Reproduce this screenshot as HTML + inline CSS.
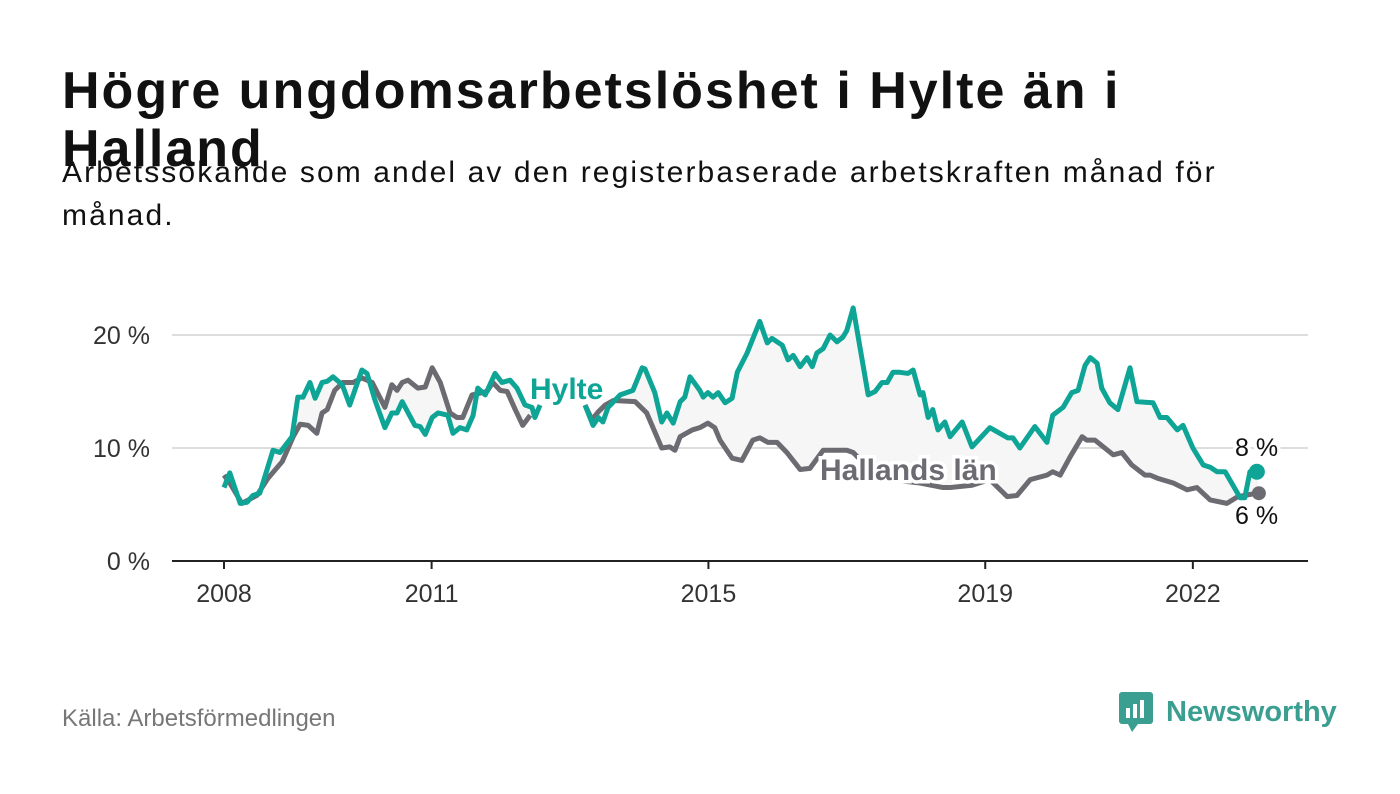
<!DOCTYPE html>
<html><head><meta charset="utf-8"><style>
body{margin:0;width:1400px;height:794px;background:#fff;overflow:hidden;font-family:"Liberation Sans",sans-serif;position:relative}
.t{position:absolute;left:62px;color:#111}
</style></head><body>
<div class="t" style="top:62px;font-size:52px;letter-spacing:2px;font-weight:bold;line-height:58px;width:1110px">Högre ungdomsarbetslöshet i Hylte än i Halland</div>
<div class="t" style="top:151px;font-size:30px;letter-spacing:2.1px;line-height:43px;width:1240px">Arbetssökande som andel av den registerbaserade arbetskraften månad för månad.</div>
<svg id="c" width="1400" height="794" style="position:absolute;left:0;top:0"></svg>
<div class="t" style="top:705px;font-size:24px;color:#777">Källa: Arbetsförmedlingen</div>
<div style="position:absolute;left:1118px;top:690px;display:flex;align-items:center">
<svg width="36" height="44"><rect x="1" y="2" width="34" height="32" rx="3" fill="#3a9e90"/><path d="M10 34 L14 42 L20 34Z" fill="#3a9e90"/><rect x="8" y="18" width="4" height="10" fill="#fff"/><rect x="15" y="14" width="4" height="14" fill="#fff"/><rect x="22" y="10" width="4" height="18" fill="#fff"/></svg>
<span style="font-size:29px;font-weight:bold;color:#3a9e90;margin-left:12px">Newsworthy</span></div>
<script>
// months since Jan 2008
const hylteMonths=[0,1,2.8,4,5,6.2,8.5,9.7,11.8,12.8,13.7,14.9,15.8,17,17.9,18.9,20.5,21.8,23.9,24.8,26.2,27.9,29.1,30,30.9,33.1,34,34.9,36.1,37.1,38.8,39.7,40.9,42.1,43.2,44,45.3,47,48.2,49.6,50.8,52.2,53.4,53.9,54.8,null,62.6,64,64.9,65.7,66.6,68.7,70.9,72.5,73,74.7,75.9,76.8,77.9,79.1,79.9,80.8,82.5,83.1,83.9,84.8,85.7,86.9,88.1,89,90.7,92.9,94.2,95,96.8,97.8,98.7,99.9,101.1,102,102.8,103.9,105.1,106.3,107.3,108,109.1,111.7,112.9,114.1,115,116,117.2,118.6,119.5,120.7,121.2,122.1,122.9,123.8,125,125.9,128,129.7,132.8,135.9,136.8,138,140.6,142.7,143.7,145.5,147,148.1,149.3,150.2,151.4,152.2,153.6,155,157.1,158.3,161.1,162.3,163.5,165.3,166.3,168,169.8,171,172.2,173.6,176.2,177,177.9,179.1];
const hylteValues=[6.5,7.8,5.1,5.2,5.8,6,9.8,9.6,11,14.5,14.5,15.8,14.4,15.8,15.9,16.3,15.6,13.8,16.9,16.6,14.2,11.8,13.1,13.1,14.1,12,11.9,11.2,12.7,13.1,12.9,11.3,11.8,11.6,12.9,15.3,14.7,16.6,15.8,16,15.3,13.8,13.6,12.7,13.8,null,13.8,12,12.7,12.3,13.6,14.7,15.1,17.1,17,14.9,12.3,13.1,12.2,14.1,14.5,16.3,15.1,14.5,14.9,14.5,14.9,14,14.4,16.7,18.4,21.2,19.3,19.7,19.1,17.8,18.2,17.2,18,17.2,18.4,18.8,20,19.4,19.8,20.4,22.4,14.7,15,15.8,15.8,16.7,16.7,16.6,16.9,14.7,14.9,12.7,13.4,11.6,12.3,11,12.3,10.1,11.8,10.9,10.9,10,11.9,10.5,12.9,13.6,14.9,15.1,17.3,18,17.5,15.3,14,13.4,17.1,14.1,14,12.7,12.7,11.6,12,10,8.5,8.3,7.9,7.9,5.6,5.6,7.9,7.9];
const hallMonths=[0,1,3.1,5.7,7.6,10.1,12,13.2,14.6,16.1,17,17.9,19.2,20.6,22.4,23.9,25.7,27.9,29.1,30,30.9,31.9,33.6,34.9,36.1,37.5,39.2,40.4,41.4,43,45.6,46.6,47.9,49.1,50.5,51.8,53.1,null,62.6,63.8,64.9,66.1,67.5,71.3,73.3,75.9,77.3,78.2,79.1,81.2,82.5,83.9,85.1,86,88.1,89.8,91.7,92.9,94.3,95.9,97.6,99.9,101.6,103.9,108,109.1,112,115.5,120.7,124.7,125.9,129.7,132.8,135.8,137.5,139.8,142.7,143.7,145,146.7,148.8,149.6,151,154.2,155.7,157.4,159.7,160.6,162,164.6,167,168.7,171,173.9,175.8,177,179.1];
const hallValues=[7.6,6.9,5.1,5.8,7.3,8.8,11,12.1,12,11.3,13.1,13.4,15.1,15.8,15.8,16.2,15.8,13.6,15.6,15.1,15.8,16,15.3,15.4,17.1,15.8,13.1,12.7,12.7,14.7,15,15.8,15.1,15,13.4,12,12.9,null,13.8,12.5,13.2,13.8,14.2,14.1,13.1,10,10.1,9.8,11,11.6,11.8,12.2,11.8,10.7,9.1,8.9,10.7,10.9,10.5,10.5,9.6,8.1,8.2,9.8,9.8,9.6,8.1,7.2,6.9,6.5,6.5,6.7,7.2,5.7,5.8,7.2,7.6,7.9,7.6,9.2,11,10.7,10.7,9.4,9.6,8.5,7.6,7.6,7.3,6.9,6.3,6.5,5.4,5.1,5.7,5.8,6];
const yTicks=[0,10,20];
const xTickYears=[2008,2011,2015,2019,2022];
const TEAL="#0ea596",GRAY="#6d6b72";
const svg=document.getElementById('c');const NS="http://www.w3.org/2000/svg";
const X=m=>224+m*5.767, Y=v=>561-v*11.3, XY=y=>X((y-2008)*12);
function mk(t,a,p){const e=document.createElementNS(NS,t);for(const k in a)e.setAttribute(k,a[k]);(p||svg).appendChild(e);return e;}
yTicks.forEach(v=>{
 if(v>0){const g=mk('line',{x1:172,x2:1308,y1:Y(v),y2:Y(v),stroke:'#ddd','stroke-width':2});
 
 }
 const t=mk('text',{x:150,y:Y(v)+9,'text-anchor':'end','font-size':25,fill:'#333','font-family':'Liberation Sans'});t.textContent=v+' %';
 
 
});
const ax=mk('line',{x1:172,x2:1308,y1:561,y2:561,stroke:'#222','stroke-width':2});


xTickYears.forEach(y=>{mk('line',{x1:XY(y),x2:XY(y),y1:561,y2:569,stroke:'#222','stroke-width':2});
 const t=mk('text',{x:XY(y),y:602,'text-anchor':'middle','font-size':25,fill:'#333','font-family':'Liberation Sans'});t.textContent=y;
 
 });
function segs(ms,vs){const out=[];let cur=[];ms.forEach((m,i)=>{if(m===null){out.push(cur);cur=[];}else cur.push([X(m),Y(vs[i])]);});out.push(cur);return out;}
const hs=segs(hylteMonths,hylteValues),gs=segs(hallMonths,hallValues);
hs.forEach((s,i)=>{const pts=s.concat(gs[i].slice().reverse());
 const f=mk('polygon',{points:pts.map(p=>p.join(',')).join(' '),fill:'#f6f6f6',stroke:'#eee'});
 
 });
gs.forEach(s=>{const l=mk('polyline',{points:s.map(p=>p.join(',')).join(' '),fill:'none',stroke:GRAY,'stroke-width':5,'stroke-linejoin':'round'});
 
 });
hs.forEach(s=>{const l=mk('polyline',{points:s.map(p=>p.join(',')).join(' '),fill:'none',stroke:TEAL,'stroke-width':5,'stroke-linejoin':'round'});
 
 });
const hl=hallMonths.length-1,yl=hylteMonths.length-1;
const d1=mk('circle',{cx:X(hallMonths[hl])+2,cy:Y(hallValues[hl]),r:7,fill:GRAY});


const d2=mk('circle',{cx:X(hylteMonths[yl]),cy:Y(hylteValues[yl]),r:8,fill:TEAL});


function lab(txt,x,y,fill,bold,name,halo){const a={x:x,y:y,'font-size':bold?30:25,'font-weight':bold?'bold':'normal',fill:fill,'font-family':'Liberation Sans'};
 if(halo){a.stroke='#fff';a['stroke-width']=7;a['paint-order']='stroke';}
 const t=mk('text',a);t.textContent=txt;
 
 }
lab('Hylte',530,399,TEAL,true,'hylte-label',true);
lab('Hallands län',820,480,GRAY,true,'hallands-label',true);
lab(Math.round(hylteValues[yl])+' %',1235,456,'#111',false,'hylte-end-value',true);
lab(Math.round(hallValues[hl])+' %',1235,524,'#111',false,'hallands-end-value',true);
</script>
</body></html>
